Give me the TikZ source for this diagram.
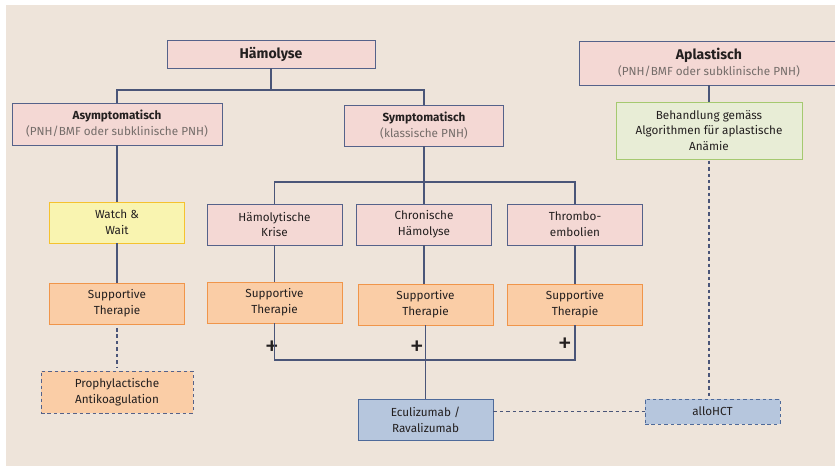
\documentclass[tikz,border=0pt]{standalone}
\usepackage{fontspec}
\setmainfont{Fira Sans}
\usetikzlibrary{positioning}

\definecolor{bgcol}{HTML}{EEE4DA}
\definecolor{navy}{HTML}{55628A}
\definecolor{linecol}{HTML}{4A5578}
\definecolor{txtcol}{HTML}{231F1F}
\definecolor{subcol}{HTML}{746C69}
\definecolor{pinkfill}{HTML}{F4D8D4}
\definecolor{orafill}{HTML}{FACDA6}
\definecolor{oradraw}{HTML}{F0954A}
\definecolor{yelfill}{HTML}{F9F4B0}
\definecolor{yeldraw}{HTML}{F5C22E}
\definecolor{grnfill}{HTML}{E8EDD6}
\definecolor{grndraw}{HTML}{A5C970}
\definecolor{bluefill}{HTML}{B6C6DD}
\definecolor{bluedraw}{HTML}{4E6A9A}

\begin{document}
\begin{tikzpicture}[x=0.03cm,y=-0.03cm,
		box/.style={line width=0.8pt,align=center,inner sep=1pt,text=txtcol,
			minimum width=4.05cm,minimum height=1.23cm,
			font=\fontsize{10}{13.6}\selectfont},
		pink/.style={box,fill=pinkfill,draw=navy},
		orange/.style={box,fill=orafill,draw=oradraw},
		yellow/.style={box,fill=yelfill,draw=yeldraw},
		green/.style={box,fill=grnfill,draw=grndraw},
		blue/.style={box,fill=bluefill,draw=bluedraw},
		dashbox/.style={draw=navy,dash pattern=on 3pt off 2.5pt},
		conn/.style={draw=linecol,line width=1pt},
		dconn/.style={conn,dash pattern=on 3pt off 2.5pt},
		plus/.style={font=\fontsize{24}{24}\selectfont,text=txtcol,inner sep=0pt}]
	\useasboundingbox (0,0) rectangle (835,466);
	\fill[bgcol] (6,5) rectangle (835,466);
	% top level
	\node [pink,minimum width=6.24cm,minimum height=0.84cm,font=\fontsize{12}{14}\bfseries] (haem) at (271,54) {Hämolyse};
	\node [pink,minimum width=7.8cm,minimum height=1.32cm] (apl) at (709,63)
		{{\fontsize{12}{14}\bfseries Aplastisch}\\\textcolor{subcol}{(PNH/BMF oder subklinische PNH)}};
	% second level
	\node [pink,minimum width=6.3cm,minimum height=1.26cm] (asym) at (117,124)
		{\textbf{Asymptomatisch}\\\textcolor{subcol}{(PNH/BMF oder subklinische PNH)}};
	\node [pink,minimum width=4.77cm] (sym) at (424,125.5)
		{\textbf{Symptomatisch}\\\textcolor{subcol}{(klassische PNH)}};
	\node [green,minimum width=5.58cm,minimum height=1.71cm] (behand) at (709,130.5)
		{Behandlung gemäss\\Algorithmen für aplastische\\Anämie};
	% third level
	\node [yellow] (watch) at (117,222.5) {Watch \&\\Wait};
	\node [pink] (krise) at (274.5,224.5) {Hämolytische\\Krise};
	\node [pink] (chron) at (424,224.5) {Chronische\\Hämolyse};
	\node [pink] (thromb) at (575,224.5) {Thrombo-\\embolien};
	% supportive
	\node [orange] (supp1) at (117,303.5) {Supportive\\Therapie};
	\node [orange] (supp2) at (274.5,302.5) {Supportive\\Therapie};
	\node [orange] (supp3) at (425.5,304.5) {Supportive\\Therapie};
	\node [orange] (supp4) at (575,304.5) {Supportive\\Therapie};
	% bottom
	\node [orange,dashbox,minimum width=4.56cm,minimum height=1.26cm] (prophy) at (117,392)
		{Prophylactische\\Antikoagulation};
	\node [blue] (ecu) at (425.5,419.5) {Eculizumab /\\Ravalizumab};
	\node [blue,dashbox,draw=bluedraw,minimum height=0.75cm] (hct) at (712.5,411.5) {alloHCT};
	\node [plus] (p1) at (272,348) {+};
	\node [plus] (p2) at (417,348) {+};
	\node [plus] (p3) at (565,345) {+};
	% connectors
	\coordinate (hsplit) at (271,90);
	\coordinate (ssplit) at (424,182);
	\coordinate (tjoin) at (425.5,360);
	\draw [conn] (haem) -- (hsplit);
	\draw [conn] (asym.north) |- (hsplit) -| (sym.north);
	\draw [conn] (sym) -- (ssplit);
	\draw [conn] (krise.north) |- (ssplit) -| (thromb.north);
	\draw [conn] (ssplit) -- (chron);
	\draw [conn] (asym) -- (watch);
	\draw [conn] (watch) -- (supp1);
	\draw [conn] (krise) -- (supp2);
	\draw [conn] (chron.south) -- (chron.south |- supp3.north);
	\draw [conn] (thromb) -- (supp4);
	\draw [conn] (supp2.south) |- (tjoin) -| (supp4.south);
	\draw [conn] (supp3) -- (ecu);
	\draw [conn] (apl) -- (behand);
	\draw [dconn,shorten <=3pt,shorten >=3pt] (supp1) -- (prophy);
	\draw [dconn] (hct.west -| ecu.east) -- (hct.west);
	\draw [dconn,shorten <=1pt,shorten >=2pt] (behand.south) -- (behand.south |- hct.north);
\end{tikzpicture}
\end{document}
